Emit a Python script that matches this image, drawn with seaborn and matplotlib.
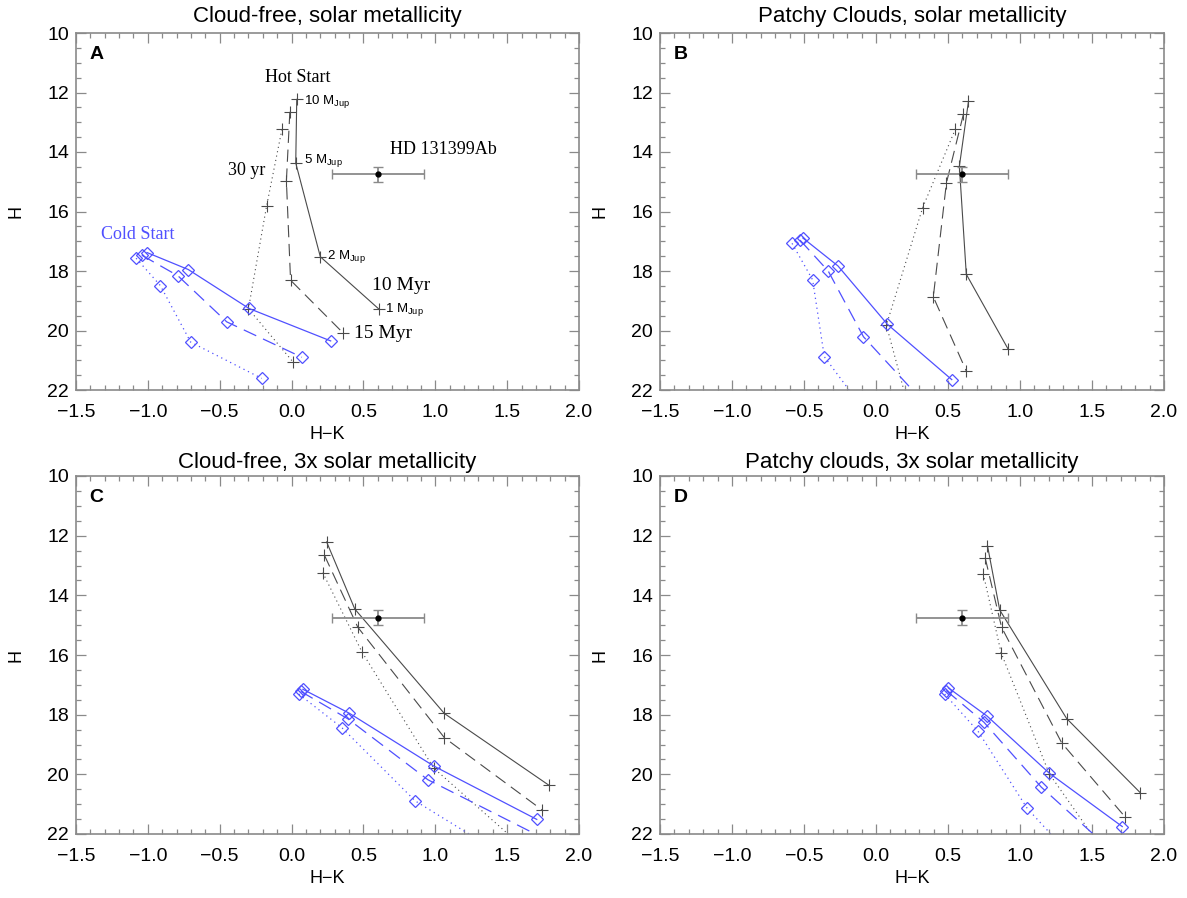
import matplotlib
matplotlib.use("Agg")
import matplotlib.pyplot as plt
from matplotlib.ticker import MultipleLocator, FuncFormatter
import seaborn as sns

plt.rcParams['font.family'] = ['Liberation Sans', 'DejaVu Sans']
plt.rcParams['mathtext.fontset'] = 'custom'
plt.rcParams['mathtext.rm'] = 'Liberation Sans'
plt.rcParams['mathtext.it'] = 'Liberation Sans'
plt.rcParams['text.color'] = 'black'
plt.rcParams['axes.labelcolor'] = 'black'
plt.rcParams['xtick.labelcolor'] = 'black'
plt.rcParams['ytick.labelcolor'] = 'black'

# ---------------- data ----------------
titles = ["Cloud-free, solar metallicity", "Patchy Clouds, solar metallicity",
          "Cloud-free, 3x solar metallicity", "Patchy clouds, 3x solar metallicity"]
panel_letters = ["A", "B", "C", "D"]

x_ticks = [-1.5, -1.0, -0.5, 0.0, 0.5, 1.0, 1.5, 2.0]
y_ticks = [10, 12, 14, 16, 18, 20, 22]

# HD 131399Ab photometry
hd_hk = 0.60
hd_h = 14.75
hd_hk_err = 0.32
hd_h_err = 0.25

# Hot start tracks (solid = 10 Myr, dashed = 15 Myr, dotted = 30 Myr); masses 10, 5, 2, 1 MJup
A_hot_solid_hk = [0.036, 0.029, 0.20, 0.61]
A_hot_solid_h = [12.23, 14.37, 17.52, 19.29]
A_hot_dash_hk = [-0.012, -0.036, -0.007, 0.356]
A_hot_dash_h = [12.65, 14.97, 18.31, 20.07]
A_hot_dot_hk = [-0.067, -0.174, -0.30, 0.012]
A_hot_dot_h = [13.24, 15.82, 19.27, 21.07]
# Cold start tracks
A_cold_solid_hk = [-1.006, -0.719, -0.296, 0.272]
A_cold_solid_h = [17.38, 17.95, 19.26, 20.35]
A_cold_dash_hk = [-1.042, -0.791, -0.451, 0.072]
A_cold_dash_h = [17.47, 18.16, 19.71, 20.90]
A_cold_dot_hk = [-1.082, -0.913, -0.702, -0.208]
A_cold_dot_h = [17.57, 18.49, 20.39, 21.61]

B_hot_solid_hk = [0.642, 0.579, 0.627, 0.917]
B_hot_solid_h = [12.30, 14.48, 18.11, 20.62]
B_hot_dash_hk = [0.607, 0.489, 0.398, 0.627]
B_hot_dash_h = [12.73, 15.04, 18.87, 21.36]
B_hot_dot_hk = [0.552, 0.324, 0.072, 0.221]
B_hot_dot_h = [13.22, 15.87, 19.82, 22.50]
B_cold_solid_hk = [-0.508, -0.264, 0.079, 0.526]
B_cold_solid_h = [16.89, 17.83, 19.79, 21.65]
B_cold_dash_hk = [-0.528, -0.332, -0.087, 0.348]
B_cold_dash_h = [16.96, 18.00, 20.21, 22.50]
B_cold_dot_hk = [-0.583, -0.440, -0.359, -0.110]
B_cold_dot_h = [17.07, 18.30, 20.88, 22.50]

C_hot_solid_hk = [0.244, 0.440, 1.063, 1.789]
C_hot_solid_h = [12.21, 14.46, 17.96, 20.36]
C_hot_dash_hk = [0.229, 0.461, 1.063, 1.742]
C_hot_dash_h = [12.66, 15.07, 18.77, 21.19]
C_hot_dot_hk = [0.217, 0.490, 0.989, 1.600]
C_hot_dot_h = [13.24, 15.90, 19.79, 22.40]
C_cold_solid_hk = [0.079, 0.401, 0.989, 1.706]
C_cold_solid_h = [17.15, 17.95, 19.72, 21.51]
C_cold_dash_hk = [0.064, 0.392, 0.948, 1.860]
C_cold_dash_h = [17.22, 18.14, 20.18, 22.40]
C_cold_dot_hk = [0.050, 0.351, 0.860, 1.370]
C_cold_dot_h = [17.31, 18.44, 20.89, 22.40]

D_hot_solid_hk = [0.774, 0.859, 1.324, 1.834]
D_hot_solid_h = [12.33, 14.49, 18.13, 20.61]
D_hot_dash_hk = [0.758, 0.872, 1.290, 1.732]
D_hot_dash_h = [12.74, 15.07, 18.95, 21.44]
D_hot_dot_hk = [0.745, 0.869, 1.203, 1.555]
D_hot_dot_h = [13.28, 15.93, 19.98, 22.40]
D_cold_solid_hk = [0.502, 0.772, 1.203, 1.710]
D_cold_solid_h = [17.10, 18.05, 19.96, 21.75]
D_cold_dash_hk = [0.487, 0.749, 1.148, 1.600]
D_cold_dash_h = [17.19, 18.25, 20.43, 22.40]
D_cold_dot_hk = [0.477, 0.709, 1.050, 1.290]
D_cold_dot_h = [17.31, 18.56, 21.14, 22.40]

mass_labels = ["10 M$_{\\rm Jup}$", "5 M$_{\\rm Jup}$", "2 M$_{\\rm Jup}$", "1 M$_{\\rm Jup}$"]

panels = {
    "A": [(A_hot_solid_hk, A_hot_solid_h), (A_hot_dash_hk, A_hot_dash_h), (A_hot_dot_hk, A_hot_dot_h),
          (A_cold_solid_hk, A_cold_solid_h), (A_cold_dash_hk, A_cold_dash_h), (A_cold_dot_hk, A_cold_dot_h)],
    "B": [(B_hot_solid_hk, B_hot_solid_h), (B_hot_dash_hk, B_hot_dash_h), (B_hot_dot_hk, B_hot_dot_h),
          (B_cold_solid_hk, B_cold_solid_h), (B_cold_dash_hk, B_cold_dash_h), (B_cold_dot_hk, B_cold_dot_h)],
    "C": [(C_hot_solid_hk, C_hot_solid_h), (C_hot_dash_hk, C_hot_dash_h), (C_hot_dot_hk, C_hot_dot_h),
          (C_cold_solid_hk, C_cold_solid_h), (C_cold_dash_hk, C_cold_dash_h), (C_cold_dot_hk, C_cold_dot_h)],
    "D": [(D_hot_solid_hk, D_hot_solid_h), (D_hot_dash_hk, D_hot_dash_h), (D_hot_dot_hk, D_hot_dot_h),
          (D_cold_solid_hk, D_cold_solid_h), (D_cold_dash_hk, D_cold_dash_h), (D_cold_dot_hk, D_cold_dot_h)],
}

# ---------------- style ----------------
HOT = "#4a4a4a"
COLD = "#5050ff"
SPINE = "#8a8a8a"
dash_styles = [None, (11, 6), (1, 3)]

W, H = 1187, 898
fig = plt.figure(figsize=(W / 100, H / 100), dpi=100)
fig.patch.set_facecolor("white")

boxes = {  # pixel boxes: left, top, right, bottom
    "A": (76, 33, 579, 390),
    "B": (660, 33, 1164, 390),
    "C": (76, 476, 579, 834),
    "D": (660, 476, 1164, 834),
}

minus_fmt = FuncFormatter(lambda v, p: ("%.1f" % v).replace("-", "\u2212"))

for i, key in enumerate(panel_letters):
    l, t, r, b = boxes[key]
    ax = fig.add_axes([l / W, 1 - b / H, (r - l) / W, (b - t) / H])
    ax.set_facecolor("white")
    tracks = panels[key]
    for j, (xs, ys) in enumerate(tracks):
        hot = j < 3
        c = HOT if hot else COLD
        style = dash_styles[j % 3]
        if hot:
            sns.lineplot(x=xs, y=ys, ax=ax, sort=False, estimator=None, color=c,
                         linewidth=0.8, marker="+", markersize=8, markeredgewidth=0.8,
                         markeredgecolor=c, legend=False)
        else:
            sns.lineplot(x=xs, y=ys, ax=ax, sort=False, estimator=None, color=c,
                         linewidth=0.9, marker="D", markersize=6, markeredgewidth=0.9,
                         markeredgecolor=c, markerfacecolor="none", legend=False)
        ln = ax.lines[-1]
        if style is not None:
            ln.set_dashes(style)
    ax.errorbar([hd_hk], [hd_h], xerr=[hd_hk_err], yerr=[hd_h_err], fmt="o", ms=3.5,
                color="black", ecolor="#8a8a8a", elinewidth=1.3, capsize=3.5, capthick=1.0, zorder=5)

    ax.set_xlim(-1.5, 2.0)
    ax.set_ylim(22, 10)
    ax.set_xticks(x_ticks)
    ax.set_yticks(y_ticks)
    ax.xaxis.set_major_formatter(minus_fmt)
    ax.xaxis.set_minor_locator(MultipleLocator(0.1))
    ax.yaxis.set_minor_locator(MultipleLocator(0.5))
    ax.tick_params(which="both", direction="in", top=True, right=True, bottom=True, left=True,
                   color=SPINE, width=0.9)
    ax.tick_params(which="major", length=7, labelsize=14)
    ax.tick_params(axis="x", which="major", pad=10)
    ax.tick_params(axis="y", which="major", pad=5)
    ax.tick_params(which="minor", length=3.5)
    for s in ax.spines.values():
        s.set_color(SPINE)
        s.set_linewidth(1.2)
    ax.grid(False)
    ax.set_xlabel("H\u2212K", fontsize=13, labelpad=4)
    ax.set_ylabel("H", fontsize=13, labelpad=16)
    ax.set_title(titles[i], fontsize=16, pad=8 if i < 2 else 6)
    ax.text(0.027, 0.94, key, transform=ax.transAxes, fontsize=14, fontweight="bold",
            ha="left", va="center")

    if key == "A":
        serif = ["Liberation Serif", "DejaVu Serif"]
        ax.text(0.041, 11.48, "Hot Start", family=serif, fontsize=13, ha="center", va="center")
        ax.text(1.056, 13.92, "HD 131399Ab", family=serif, fontsize=13, ha="center", va="center")
        ax.text(-0.313, 14.61, "30 yr", family=serif, fontsize=13, ha="center", va="center")
        ax.text(-1.07, 16.78, "Cold Start", family=serif, fontsize=13, ha="center", va="center",
                color=COLD)
        ax.text(0.762, 18.48, "10 Myr", family=serif, fontsize=14, ha="center", va="center")
        ax.text(0.64, 20.10, "15 Myr", family=serif, fontsize=14, ha="center", va="center")
        for lab, px, py in zip(mass_labels, [0.088, 0.088, 0.244, 0.65],
                               [12.30, 14.30, 17.52, 19.29]):
            ax.text(px, py, lab, fontsize=9.5, ha="left", va="center")

fig.savefig("out.png", dpi=100)
